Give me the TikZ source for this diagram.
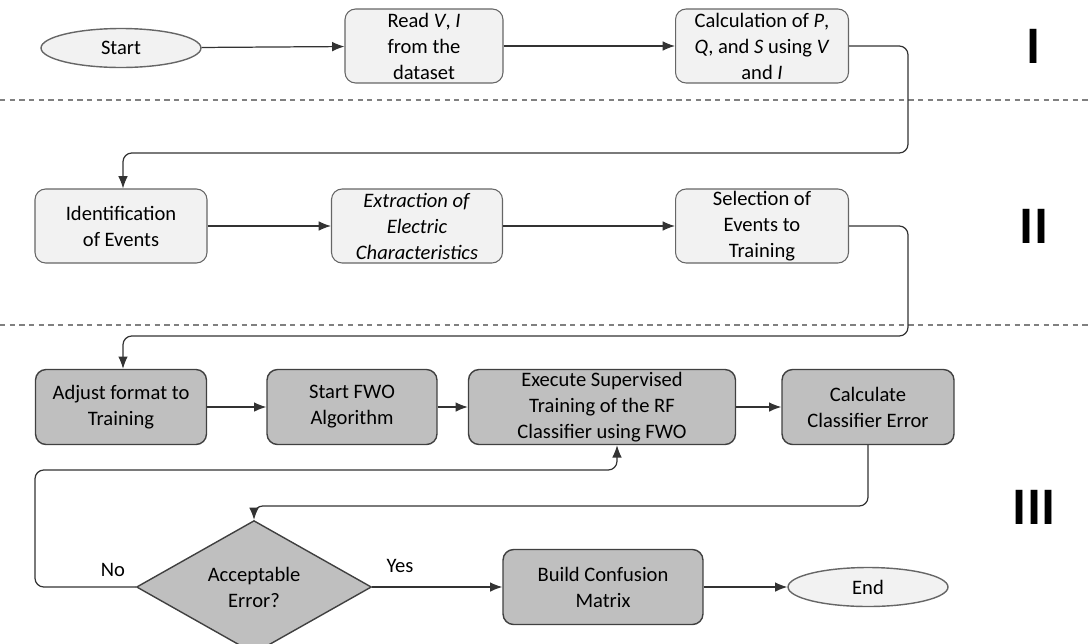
\documentclass[tikz,border=0pt]{standalone}
\usepackage{fontspec}
\setmainfont{Carlito}
\usetikzlibrary{calc,shapes.geometric,arrows.meta}

\tikzset{
  lbox/.style={draw=gray!80!black, fill=gray!10, rounded corners=6pt, line width=0.6pt,
    align=center, inner sep=1pt, minimum height=1.48cm},
  dbox/.style={draw=black!75, fill=gray!50, rounded corners=6pt, line width=0.8pt,
    align=center, inner sep=1pt, minimum height=1.5cm},
  term/.style={draw=gray!80!black, fill=gray!10, ellipse, line width=0.8pt,
    minimum width=3.2cm, minimum height=0.78cm, inner sep=0pt},
  arr/.style={-{Latex[length=7pt,width=5.5pt]}, draw=black!80, line width=0.7pt, rounded corners=5pt},
  sep/.style={gray, dashed, dash pattern=on 3pt off 2.5pt, line width=0.7pt},
  phase/.style={font=\fontsize{30}{30}\selectfont\bfseries}
}

\begin{document}
\begin{tikzpicture}[x=0.02cm, y=-0.02cm, font=\fontsize{11.7}{14.8}\selectfont]
  \useasboundingbox (0,0) rectangle (1088,643);
  % Phase I
  \node[term] (start) at (121,48) {Start};
  \node[lbox, minimum width=3.16cm] (read) at (424,46) {Read \textit{V}, \textit{I}\\from the\\dataset};
  \node[lbox, minimum width=3.46cm] (calc) at (762,46) {Calculation of \textit{P},\\\textit{Q}, and \textit{S} using \textit{V}\\and \textit{I}};
  \node[phase] (p1) at (1034,46) {I};
  \draw[sep] (0,100) -- (1088,100);
  % Phase II
  \node[lbox, minimum width=3.44cm] (ident) at (121,226) {Identification\\of Events};
  \node[lbox, minimum width=3.42cm] (extract) at (417,226) {\textit{Extraction of}\\\textit{Electric}\\\textit{Characteristics}};
  \node[lbox, minimum width=3.46cm] (select) at (762,226) {Selection of\\Events to\\Training};
  \node[phase] (p2) at (1034,226) {II};
  \draw[sep] (0,325) -- (1088,325);
  % Phase III
  \node[dbox, minimum width=3.42cm] (adjust) at (121,407) {Adjust format to\\Training};
  \node[dbox, minimum width=3.4cm] (fwo) at (352,407) {Start FWO\\Algorithm};
  \node[dbox, minimum width=5.34cm] (exec) at (602,407) {Execute Supervised\\Training of the RF\\Classifier using FWO};
  \node[dbox, minimum width=3.44cm] (err) at (868,407) {Calculate\\Classifier Error};
  \node[phase] (p3) at (1034,507) {III};
  \node[draw=black!75, fill=gray!50, diamond, line width=0.8pt, inner sep=0pt,
    minimum width=4.7cm, minimum height=2.22cm, align=center] (accept) at (254,587) {Acceptable\\Error?};
  \node[dbox, minimum width=4cm] (build) at (603,587) {Build Confusion\\Matrix};
  \node[term] (finish) at (868,587) {End};
  % connectors
  \coordinate (c1) at (908,153);
  \coordinate (c2) at (908,336);
  \coordinate (c3) at (35,470);
  \coordinate (c4) at (868,506);
  \draw[arr] (start) -- (read);
  \draw[arr] (read) -- (calc);
  \draw[arr] (calc.east) -| (c1) -| ($(ident.north)+(2,0)$);
  \draw[arr] (ident) -- (extract);
  \draw[arr] (extract) -- (select);
  \draw[arr] (select.east) -| (c2) -| ($(adjust.north)+(2,0)$);
  \draw[arr] (adjust) -- (fwo);
  \draw[arr] (fwo) -- (exec);
  \draw[arr] (exec) -- (err);
  \draw[arr] (err.south) -- (c4) -| (accept.north);
  \draw[arr] (accept.west) -| (c3) -| ($(exec.south)+(15,0)$);
  \draw[arr] (accept.east) -- (build.west);
  \draw[arr] (build) -- (finish);
  \node (no) at (113,570) {No};
  \node (yes) at (400,566) {Yes};
\end{tikzpicture}
\end{document}
